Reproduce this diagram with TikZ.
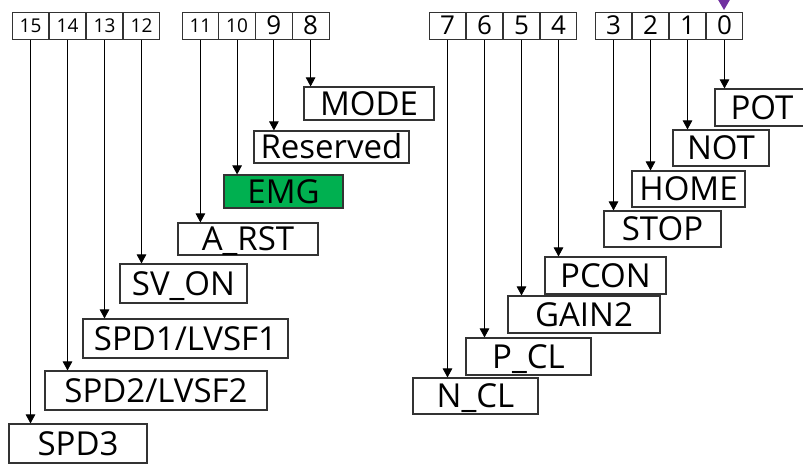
\documentclass[tikz,border=0pt]{standalone}
\usepackage{fontspec}
\setmainfont{Open Sans}
\usetikzlibrary{arrows.meta}
\definecolor{emggreen}{HTML}{00B050}
\definecolor{markpurple}{HTML}{7030A0}
\begin{document}
\begin{tikzpicture}[x=1pt,y=-1pt,
  bitcell/.style={draw=black!80,line width=1pt,minimum width=36.8pt,minimum height=27pt,inner sep=0pt,text depth=0pt},
  bitsmall/.style={bitcell,font=\fontsize{19}{19}\selectfont,text height=13.6pt},
  bitbig/.style={bitcell,font=\fontsize{26}{26}\selectfont,text height=18.6pt},
  lbl/.style={draw=black!80,line width=1.1pt,inner sep=0pt,text height=23.5pt,text depth=0pt,font=\fontsize{33}{33}\selectfont},
  conn/.style={line width=0.9pt,-{Triangle[width=9.5pt,length=9pt]}}]
\useasboundingbox (0,0) rectangle (803,464);
\clip (0,0) rectangle (803,464);
% bit cells
\node[bitsmall] (b15) at (30.5,25.5) {15};
\node[bitsmall] (b14) at (67.5,25.5) {14};
\node[bitsmall] (b13) at (104.5,25.5) {13};
\node[bitsmall] (b12) at (141.5,25.5) {12};
\node[bitsmall] (b11) at (200.4,25.5) {11};
\node[bitsmall] (b10) at (237.1,25.5) {10};
\node[bitbig] (b9) at (273.9,25.5) {9};
\node[bitbig] (b8) at (310.6,25.5) {8};
\node[bitbig] (b7) at (447.5,25.5) {7};
\node[bitbig] (b6) at (484.5,25.5) {6};
\node[bitbig] (b5) at (521.5,25.5) {5};
\node[bitbig] (b4) at (558.5,25.5) {4};
\node[bitbig] (b3) at (613.5,25.5) {3};
\node[bitbig] (b2) at (650.5,25.5) {2};
\node[bitbig] (b1) at (687.5,25.5) {1};
\node[bitbig] (b0) at (724.5,25.5) {0};
% labels
\node[lbl,minimum width=130pt,minimum height=33pt] (mode) at (369,103.5) {MODE};
\node[lbl,minimum width=155pt,minimum height=32pt] (res) at (331.5,147) {Reserved};
\node[lbl,fill=emggreen,minimum width=119pt,minimum height=33pt] (emg) at (283.5,191.5) {EMG};
\node[lbl,minimum width=140pt,minimum height=32pt] (arst) at (248,239) {A\_RST};
\node[lbl,minimum width=127pt,minimum height=39pt] (svon) at (183.5,283.5) {SV\_ON};
\node[lbl,minimum width=205pt,minimum height=39pt] (spd1) at (185.5,338.5) {SPD1/LVSF1};
\node[lbl,minimum width=222pt,minimum height=39pt] (spd2) at (156,390.5) {SPD2/LVSF2};
\node[lbl,minimum width=138pt,minimum height=39pt] (spd3) at (78,443.5) {SPD3};
\node[lbl,minimum width=94pt,minimum height=37pt] (pot) at (762,107.5) {POT};
\node[lbl,minimum width=96pt,minimum height=36pt] (not) at (721,148) {NOT};
\node[lbl,minimum width=113pt,minimum height=36pt] (home) at (688.5,189) {HOME};
\node[lbl,minimum width=117pt,minimum height=36pt] (stop) at (662.5,229) {STOP};
\node[lbl,minimum width=121pt,minimum height=37pt] (pcon) at (605.5,275.5) {PCON};
\node[lbl,minimum width=152pt,minimum height=37pt] (gain) at (584,314.5) {GAIN2};
\node[lbl,minimum width=125pt,minimum height=37pt] (pcl) at (528.5,356.5) {P\_CL};
\node[lbl,minimum width=125pt,minimum height=36pt] (ncl) at (475.5,396) {N\_CL};
% connectors
\foreach \b/\l in {b15/spd3,b14/spd2,b13/spd1,b12/svon,b11/arst,b10/emg,b9/res,b8/mode,
                   b7/ncl,b6/pcl,b5/gain,b4/pcon,b3/stop,b2/home,b1/not,b0/pot}
  \draw[conn] (\b.south) -- (\b.south |- \l.north);
% marker above bit 0
\fill[markpurple] (717,-2) -- (731,-2) -- (724,10) -- cycle;
\end{tikzpicture}
\end{document}
